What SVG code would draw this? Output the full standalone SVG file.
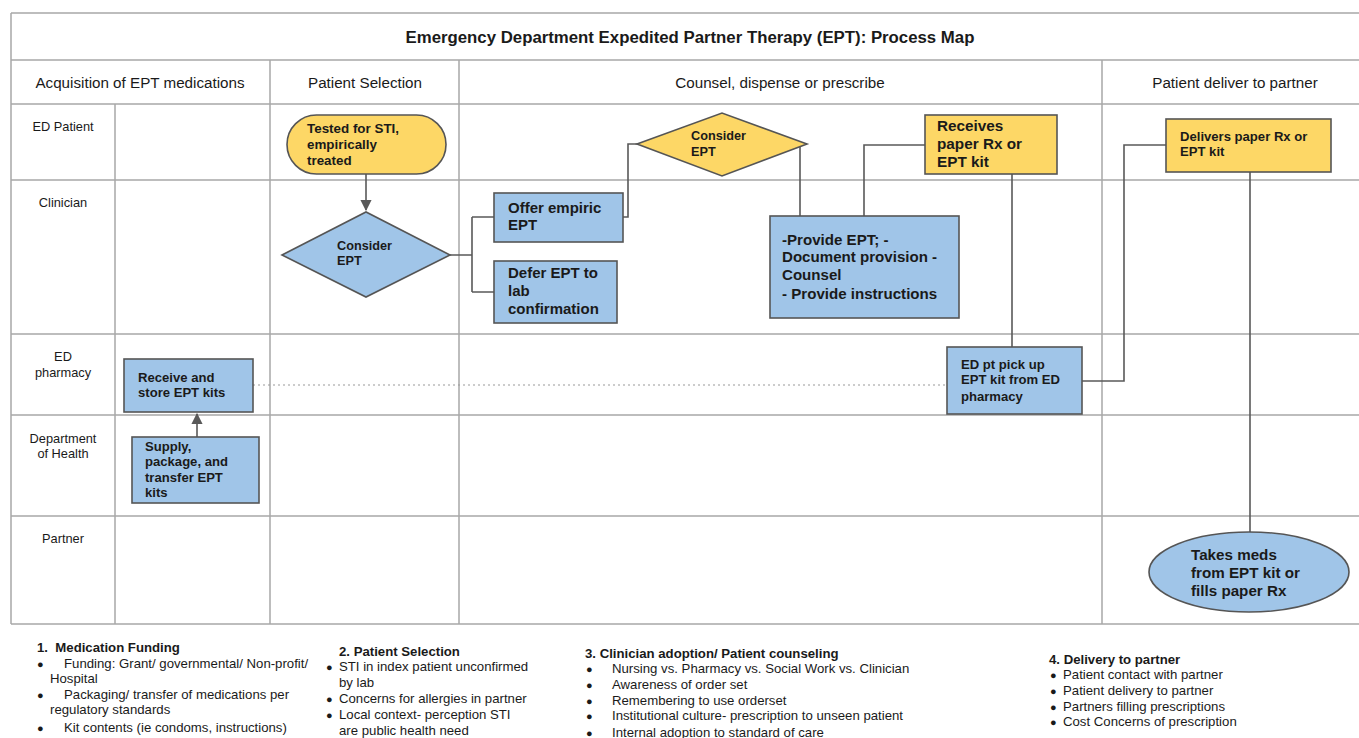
<svg xmlns="http://www.w3.org/2000/svg" width="1359" height="738" viewBox="0 0 1359 738">
<defs>
<style>
text{font-family:"Liberation Sans",Arial,sans-serif;fill:#1a1a1a}
.grid{stroke:#a8a8a8;stroke-width:1.5;fill:none}
.title{font-size:16.8px;font-weight:bold}
.hdr{font-size:15.2px}
.lbl{font-size:12.8px}
.yel{fill:#FDD766;stroke:#555;stroke-width:1.6}
.blu{fill:#A0C5E8;stroke:#555;stroke-width:1.6}
.nt{font-weight:bold}
.conn{stroke:#595959;stroke-width:1.6;fill:none}
.dot{stroke:#999;stroke-width:1.2;stroke-dasharray:2 3;fill:none}
.ft{font-size:13.2px}
.fh{font-size:13.2px;font-weight:bold}
.bl{font-size:11px}
</style>
<marker id="ah" viewBox="0 0 10 10" refX="9" refY="5" markerWidth="7" markerHeight="7" orient="auto">
<path d="M0,0 L10,5 L0,10 z" fill="#595959"/>
</marker>
</defs>
<rect width="1359" height="738" fill="#fff"/>
<g id="grid">
<path class="grid" d="M11,13 H1359 M11,60 H1359 M11,104 H1359 M11,180 H1359 M11,334 H1359 M11,415 H1359 M11,516 H1359 M11,624 H1359 M11,13 V624 M115,104 V624 M270,60 V624 M459,60 V624 M1102,60 V624"/>
<text class="title" x="690" y="43" text-anchor="middle">Emergency Department Expedited Partner Therapy (EPT): Process Map</text>
<text class="hdr" x="140" y="88" text-anchor="middle">Acquisition of EPT medications</text>
<text class="hdr" x="365" y="88" text-anchor="middle">Patient Selection</text>
<text class="hdr" x="780" y="88" text-anchor="middle">Counsel, dispense or prescribe</text>
<text class="hdr" x="1235" y="88" text-anchor="middle">Patient deliver to partner</text>
<text class="lbl" x="63" y="131" text-anchor="middle">ED Patient</text>
<text class="lbl" x="63" y="207" text-anchor="middle">Clinician</text>
<text class="lbl" x="63" y="361" text-anchor="middle">ED</text>
<text class="lbl" x="63" y="377" text-anchor="middle">pharmacy</text>
<text class="lbl" x="63" y="443" text-anchor="middle">Department</text>
<text class="lbl" x="63" y="458" text-anchor="middle">of Health</text>
<text class="lbl" x="63" y="543" text-anchor="middle">Partner</text>
</g>
<g id="connectors">
<path class="conn" d="M366,174 V210" marker-end="url(#ah)"/>
<path class="conn" d="M450,255 H472 M472,217 V292 M472,217 H494 M472,292 H494"/>
<path class="conn" d="M623,217 H628 V144 H637"/>
<path class="conn" d="M807,144 H800 V216"/>
<path class="conn" d="M864,216 V145 H925"/>
<path class="conn" d="M1012,174 V347"/>
<path class="conn" d="M1082,381 H1124 V145 H1166"/>
<path class="conn" d="M1250,172 V532"/>
<path class="conn" d="M197,437 V414" marker-end="url(#ah)"/>
<path class="dot" d="M253,385 H947"/>
</g>
<g id="n-tested">
<rect class="yel" x="287" y="115" width="159" height="59" rx="29.5"/>
<text class="nt" font-size="13.4" x="307" y="133">Tested for STI,</text>
<text class="nt" font-size="13.4" x="307" y="149">empirically</text>
<text class="nt" font-size="13.4" x="307" y="165">treated</text>
</g>
<g id="n-consider1">
<polygon class="blu" points="282,255 366,212 450,255 366,297"/>
<text class="nt" font-size="12.7" x="337" y="250">Consider</text>
<text class="nt" font-size="12.7" x="337" y="265">EPT</text>
</g>
<g id="n-offer">
<rect class="blu" x="494" y="193" width="129" height="49"/>
<text class="nt" font-size="15" x="508" y="213">Offer empiric</text>
<text class="nt" font-size="15" x="508" y="230">EPT</text>
</g>
<g id="n-defer">
<rect class="blu" x="494" y="261" width="123" height="62"/>
<text class="nt" font-size="15" x="508" y="278">Defer EPT to</text>
<text class="nt" font-size="15" x="508" y="296">lab</text>
<text class="nt" font-size="15" x="508" y="314">confirmation</text>
</g>
<g id="n-consider2">
<polygon class="yel" points="637,144 722,113 807,144 722,176"/>
<text class="nt" font-size="12.7" x="691" y="140">Consider</text>
<text class="nt" font-size="12.7" x="691" y="156">EPT</text>
</g>
<g id="n-provide">
<rect class="blu" x="770" y="216" width="189" height="102"/>
<text class="nt" font-size="15.1" x="782" y="245">-Provide EPT; -</text>
<text class="nt" font-size="15.1" x="782" y="262">Document provision -</text>
<text class="nt" font-size="15.1" x="782" y="280">Counsel</text>
<text class="nt" font-size="15.1" x="782" y="299">- Provide instructions</text>
</g>
<g id="n-receives">
<rect class="yel" x="925" y="115" width="132" height="59"/>
<text class="nt" font-size="15.3" x="937" y="131">Receives</text>
<text class="nt" font-size="15.3" x="937" y="149">paper Rx or</text>
<text class="nt" font-size="15.3" x="937" y="167">EPT kit</text>
</g>
<g id="n-pickup">
<rect class="blu" x="947" y="347" width="135" height="67"/>
<text class="nt" font-size="13.1" x="961" y="369">ED pt pick up</text>
<text class="nt" font-size="13.1" x="961" y="384">EPT kit from ED</text>
<text class="nt" font-size="13.1" x="961" y="401">pharmacy</text>
</g>
<g id="n-delivers">
<rect class="yel" x="1166" y="119" width="165" height="53"/>
<text class="nt" font-size="13.1" x="1180" y="141">Delivers paper Rx or</text>
<text class="nt" font-size="13.1" x="1180" y="156">EPT kit</text>
</g>
<g id="n-takes">
<ellipse class="blu" cx="1249" cy="572" rx="100" ry="40"/>
<text class="nt" font-size="15.2" x="1191" y="560">Takes meds</text>
<text class="nt" font-size="15.2" x="1191" y="578">from EPT kit or</text>
<text class="nt" font-size="15.2" x="1191" y="596">fills paper Rx</text>
</g>
<g id="n-receive-store">
<rect class="blu" x="124" y="359" width="129" height="53"/>
<text class="nt" font-size="13.1" x="138" y="382">Receive and</text>
<text class="nt" font-size="13.1" x="138" y="397">store EPT kits</text>
</g>
<g id="n-supply">
<rect class="blu" x="132" y="437" width="127" height="66"/>
<text class="nt" font-size="13.1" x="145" y="451">Supply,</text>
<text class="nt" font-size="13.1" x="145" y="466">package, and</text>
<text class="nt" font-size="13.1" x="145" y="482">transfer EPT</text>
<text class="nt" font-size="13.1" x="145" y="497">kits</text>
</g>
<g id="notes">
<text class="fh" x="37" y="652">1.&#160; Medication Funding</text>
<text class="bl" x="37" y="668">●</text><text class="ft" x="64" y="668">Funding: Grant/ governmental/ Non-profit/</text>
<text class="ft" x="50" y="683">Hospital</text>
<text class="bl" x="37" y="699">●</text><text class="ft" x="64" y="699">Packaging/ transfer of medications per</text>
<text class="ft" x="50" y="714">regulatory standards</text>
<text class="bl" x="37" y="732">●</text><text class="ft" x="64" y="732">Kit contents (ie condoms, instructions)</text>

<text class="fh" x="339" y="656">2. Patient Selection</text>
<text class="bl" x="326" y="671">●</text><text class="ft" x="339" y="671">STI in index patient unconfirmed</text>
<text class="ft" x="339" y="687">by lab</text>
<text class="bl" x="326" y="703">●</text><text class="ft" x="339" y="703">Concerns for allergies in partner</text>
<text class="bl" x="326" y="719">●</text><text class="ft" x="339" y="719">Local context- perception STI</text>
<text class="ft" x="339" y="735">are public health need</text>

<text class="fh" x="585" y="658">3. Clinician adoption/ Patient counseling</text>
<text class="bl" x="586" y="673">●</text><text class="ft" x="612" y="673">Nursing vs. Pharmacy vs. Social Work vs. Clinician</text>
<text class="bl" x="586" y="689">●</text><text class="ft" x="612" y="689">Awareness of order set</text>
<text class="bl" x="586" y="705">●</text><text class="ft" x="612" y="705">Remembering to use orderset</text>
<text class="bl" x="586" y="720">●</text><text class="ft" x="612" y="720">Institutional culture- prescription to unseen patient</text>
<text class="bl" x="586" y="737">●</text><text class="ft" x="612" y="737">Internal adoption to standard of care</text>

<text class="fh" x="1049" y="664">4. Delivery to partner</text>
<text class="bl" x="1050" y="679">●</text><text class="ft" x="1063" y="679">Patient contact with partner</text>
<text class="bl" x="1050" y="695">●</text><text class="ft" x="1063" y="695">Patient delivery to partner</text>
<text class="bl" x="1050" y="711">●</text><text class="ft" x="1063" y="711">Partners filling prescriptions</text>
<text class="bl" x="1050" y="726">●</text><text class="ft" x="1063" y="726">Cost Concerns of prescription</text>
</g>
</svg>
